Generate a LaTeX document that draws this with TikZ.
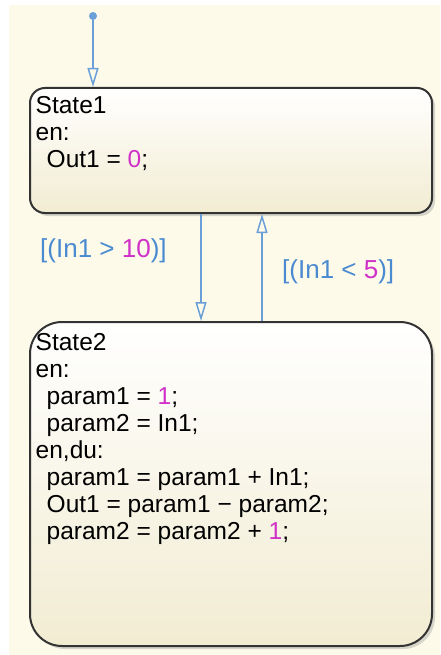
\documentclass[tikz,border=0pt]{standalone}
\usepackage{fontspec}
\setmainfont{Liberation Sans}
\usetikzlibrary{arrows.meta,shadows}

\definecolor{chartbg}{HTML}{FDFAEA}
\definecolor{statebot}{HTML}{F2ECD2}
\definecolor{transblue}{HTML}{6A9FD8}
\definecolor{guardblue}{HTML}{4A8AD0}
\definecolor{numpink}{HTML}{D030C8}

\newcommand{\num}[1]{\textcolor{numpink}{#1}}
\newcommand{\ind}{\hspace*{11pt}}

\begin{document}
\begin{tikzpicture}[x=1pt, y=-1pt,
    font=\fontsize{24.5}{27}\selectfont,
    statebox/.style={draw=black!80, line width=2pt, inner sep=0pt,
      minimum width=402pt, top color=white, bottom color=statebot,
      drop shadow={shadow xshift=3pt, shadow yshift=-3pt, opacity=.3}},
    statetext/.style={anchor=north west, inner sep=0pt, align=left},
    trans/.style={draw=transblue, line width=1.5pt,
      -{Triangle[open, width=11pt, length=19pt, line width=1.5pt]}},
    guard/.style={anchor=base west, inner sep=0pt, text=guardblue,
      font=\fontsize{26}{27}\selectfont},
    initdot/.style={circle, fill=transblue, inner sep=0pt, minimum size=8pt}]
  % chart area
  \useasboundingbox (0,0) rectangle (440,655);
  \fill[chartbg] (9,5) rectangle (440,655);

  % --- states ---
  \node[statebox, minimum height=125pt, rounded corners=15pt] (s1) at (231,150.5) {};
  \node[statebox, minimum height=324pt, rounded corners=32pt] (s2) at (231,484) {};

  \node[statetext] (s1txt) at (35.5,96.5) {State1\\en:\\\ind Out1 = \num{0};};
  \node[statetext] (s2txt) at (35.5,333.5) {State2\\en:\\
    \ind param1 = \num{1};\\
    \ind param2 = In1;\\
    en,du:\\
    \ind param1 = param1 + In1;\\
    \ind Out1 = param1 − param2;\\
    \ind param2 = param2 + \num{1};};

  % --- default transition ---
  \node[initdot] (init) at (93,16) {};
  \draw[trans] (init) -- (init |- s1.north);

  % --- transitions between states ---
  \coordinate (down) at (201,0);
  \coordinate (up) at (262,0);
  \draw[trans] (s1.south -| down) -- (s2.north -| down);
  \draw[trans] (s2.north -| up) -- (s1.south -| up);

  % --- guards ---
  \node[guard] (g1) at (40,257) {[(In1 > \num{10})]};
  \node[guard] (g2) at (282,278) {[(In1 < \num{5})]};
\end{tikzpicture}
\end{document}
